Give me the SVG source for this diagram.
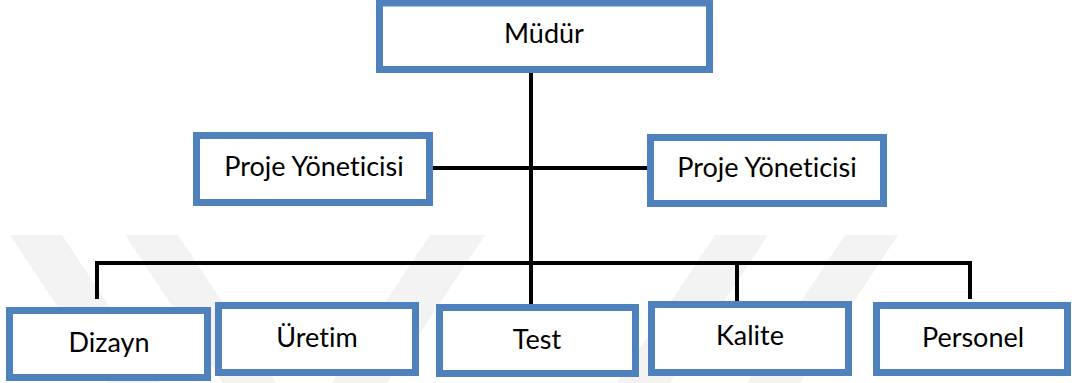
<svg xmlns="http://www.w3.org/2000/svg" width="1072" height="383" viewBox="0 0 1072 383">
  <style>
    .box { fill: #ffffff; stroke: #4f81bd; stroke-width: 7; }
    .lbl { font-family: Lato, "Noto Sans", sans-serif; font-size: 27px; fill: #000000; text-anchor: middle; font-variant-ligatures: none; }
    .wire { fill: none; stroke: #000000; stroke-width: 4; }
    .mark { fill: #f3f3f3; }
  </style>

  <!-- faint background emblem -->
  <g id="emblem">
    <polygon class="mark" points="10,235 62,235 160,383 108,383"/>
    <polygon class="mark" points="125,235 178,235 276,383 223,383"/>
    <polygon class="mark" points="430,235 485,235 387,383 332,383"/>
    <polygon class="mark" points="715,235 768,235 670,383 617,383"/>
    <polygon class="mark" points="845,235 898,235 800,383 747,383"/>
  </g>

  <!-- connectors -->
  <g id="connectors">
    <path class="wire" d="M531,73 V304"/>
    <path class="wire" d="M433,168 H647"/>
    <path class="wire" d="M97,299 V263 H970 V299"/>
    <path class="wire" d="M737,263 V301"/>
  </g>

  <g id="mudur">
    <rect class="box" x="379.5" y="3" width="330" height="66.5"/>
    <text class="lbl" x="544" y="43">Müdür</text>
  </g>
  <g id="proje-yoneticisi-1">
    <rect class="box" x="196.5" y="135.5" width="233" height="67"/>
    <text class="lbl" x="314" y="176">Proje Yöneticisi</text>
  </g>
  <g id="proje-yoneticisi-2">
    <rect class="box" x="650.5" y="137.5" width="233" height="66"/>
    <text class="lbl" x="767" y="177">Proje Yöneticisi</text>
  </g>
  <g id="dizayn">
    <rect class="box" x="9.5" y="310.5" width="198" height="67"/>
    <text class="lbl" x="109" y="352">Dizayn</text>
  </g>
  <g id="uretim">
    <rect class="box" x="218.5" y="305.5" width="197" height="67"/>
    <text class="lbl" x="317" y="347">Üretim</text>
  </g>
  <g id="test">
    <rect class="box" x="439.5" y="307.5" width="196" height="66"/>
    <text class="lbl" x="537" y="349">Test</text>
  </g>
  <g id="kalite">
    <rect class="box" x="651.5" y="304.5" width="197" height="68"/>
    <text class="lbl" x="750" y="345">Kalite</text>
  </g>
  <g id="personel">
    <rect class="box" x="876.5" y="305.5" width="191" height="67"/>
    <text class="lbl" x="973" y="347">Personel</text>
  </g>
</svg>
